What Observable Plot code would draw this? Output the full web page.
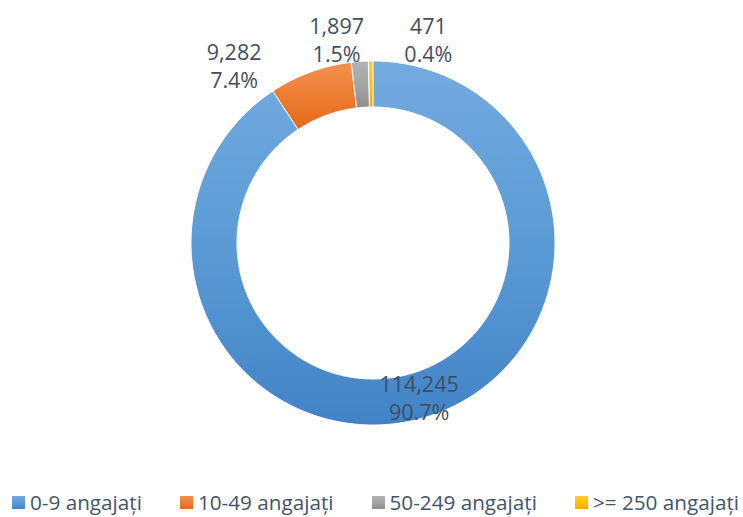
<!DOCTYPE html>
<html>
<head>
<meta charset="utf-8">
<script src="https://cdn.jsdelivr.net/npm/d3@7"></script>
<script src="https://cdn.jsdelivr.net/npm/@observablehq/plot@0.6"></script>
<style>
  html, body { margin: 0; padding: 0; background: #fff; }
  #wrap { position: relative; width: 743px; height: 517px; overflow: hidden; font-family: "Open Sans", sans-serif; }
  #wrap svg { position: absolute; left: 0; top: 0; }
  .legend { position: absolute; left: 12px; top: 490px; display: flex; white-space: nowrap;
            font-size: 20.7px; line-height: 24px; color: #44546a; }
  .legend .item { display: flex; align-items: flex-start; margin-right: 38px; }
  .legend .sw { width: 13px; height: 13px; margin-top: 6px; margin-right: 5px; flex: none; }
</style>
</head>
<body>
<div id="wrap"></div>
<script>
// ---- data ----
const categories = ["0-9 angajați", "10-49 angajați", "50-249 angajați", ">= 250 angajați"];
const values = [114245, 9282, 1897, 471];
const percentLabels = ["90.7%", "7.4%", "1.5%", "0.4%"];

// ---- style ----
const gradTop = ["#74aae0", "#f3904f", "#b2b2b2", "#ffcb3a"];
const gradMid = ["#5b9bd5", "#ed7d31", "#a5a5a5", "#ffc000"];
const gradBottom = ["#4283c7", "#e3691c", "#8e8e8e", "#e9b000"];
const innerRatio = 136 / 182;
// label nudges in pixels (manual label placement as in the original)
const labelNudge = [[0, 1], [-77, -7.5], [-24, -23], [57, -22.5]];
const pxPerUnit = 182;

// ---- geometry from data ----
const pie = d3.pie().sort(null).value(d => d.value).startAngle(0).endAngle(2 * Math.PI);
const arcs = pie(categories.map((c, i) => ({ cat: c, value: values[i], i })));

const ringRows = [];
for (const a of arcs) {
  const n = Math.max(2, Math.ceil((a.endAngle - a.startAngle) / 0.01));
  for (let k = 0; k <= n; k++) {
    const t = a.startAngle + (a.endAngle - a.startAngle) * k / n;
    ringRows.push({
      cat: a.data.cat,
      x1: Math.sin(t), y1: Math.cos(t),
      x2: innerRatio * Math.sin(t), y2: innerRatio * Math.cos(t)
    });
  }
}

const labelRows = arcs.map((a, i) => {
  const mid = (a.startAngle + a.endAngle) / 2;
  const r = i === 0 ? (1 + innerRatio) / 2 : 1;
  const [nx, ny] = labelNudge[i];
  return {
    x: r * Math.sin(mid) + nx / pxPerUnit,
    y: r * Math.cos(mid) - ny / pxPerUnit,
    text: d3.format(",")(a.data.value) + "\n" + percentLabels[i]
  };
});

const chart = Plot.plot({
  width: 743,
  height: 488,
  margin: 0,
  style: { fontFamily: "Open Sans, sans-serif", background: "transparent", overflow: "visible" },
  x: { domain: [-1, 1], range: [373 - 182, 373 + 182], axis: null },
  y: { domain: [-1, 1], range: [243 + 182, 243 - 182], axis: null },
  color: { domain: categories, range: categories.map((c, i) => `url(#grad${i})`) },
  marks: [
    Plot.area(ringRows, {
      x1: "x1", y1: "y1", x2: "x2", y2: "y2", z: "cat", fill: "cat",
      stroke: "white", strokeWidth: 1
    }),
    Plot.text(labelRows, {
      x: "x", y: "y", text: "text", fontSize: 21.5, lineHeight: 1.3,
      lineAnchor: "middle", textAnchor: "middle", fill: "#3f4e63"
    })
  ]
});

// gradients
const defs = document.createElementNS("http://www.w3.org/2000/svg", "defs");
defs.innerHTML = categories.map((c, i) =>
  `<linearGradient id="grad${i}" x1="0" y1="0" x2="0" y2="1">
     <stop offset="0" stop-color="${gradTop[i]}"/>
     <stop offset="0.5" stop-color="${gradMid[i]}"/>
     <stop offset="1" stop-color="${gradBottom[i]}"/>
   </linearGradient>`).join("");
chart.insertBefore(defs, chart.firstChild);

const wrap = document.getElementById("wrap");
wrap.appendChild(chart);

// legend
const legend = document.createElement("div");
legend.className = "legend";
categories.forEach((c, i) => {
  const item = document.createElement("div");
  item.className = "item";
  const sw = document.createElement("span");
  sw.className = "sw";
  sw.style.background = `linear-gradient(${gradTop[i]}, ${gradMid[i]}, ${gradBottom[i]})`;
  const tx = document.createElement("span");
  tx.textContent = c;
  item.appendChild(sw);
  item.appendChild(tx);
  legend.appendChild(item);
});
wrap.appendChild(legend);
</script>
</body>
</html>
